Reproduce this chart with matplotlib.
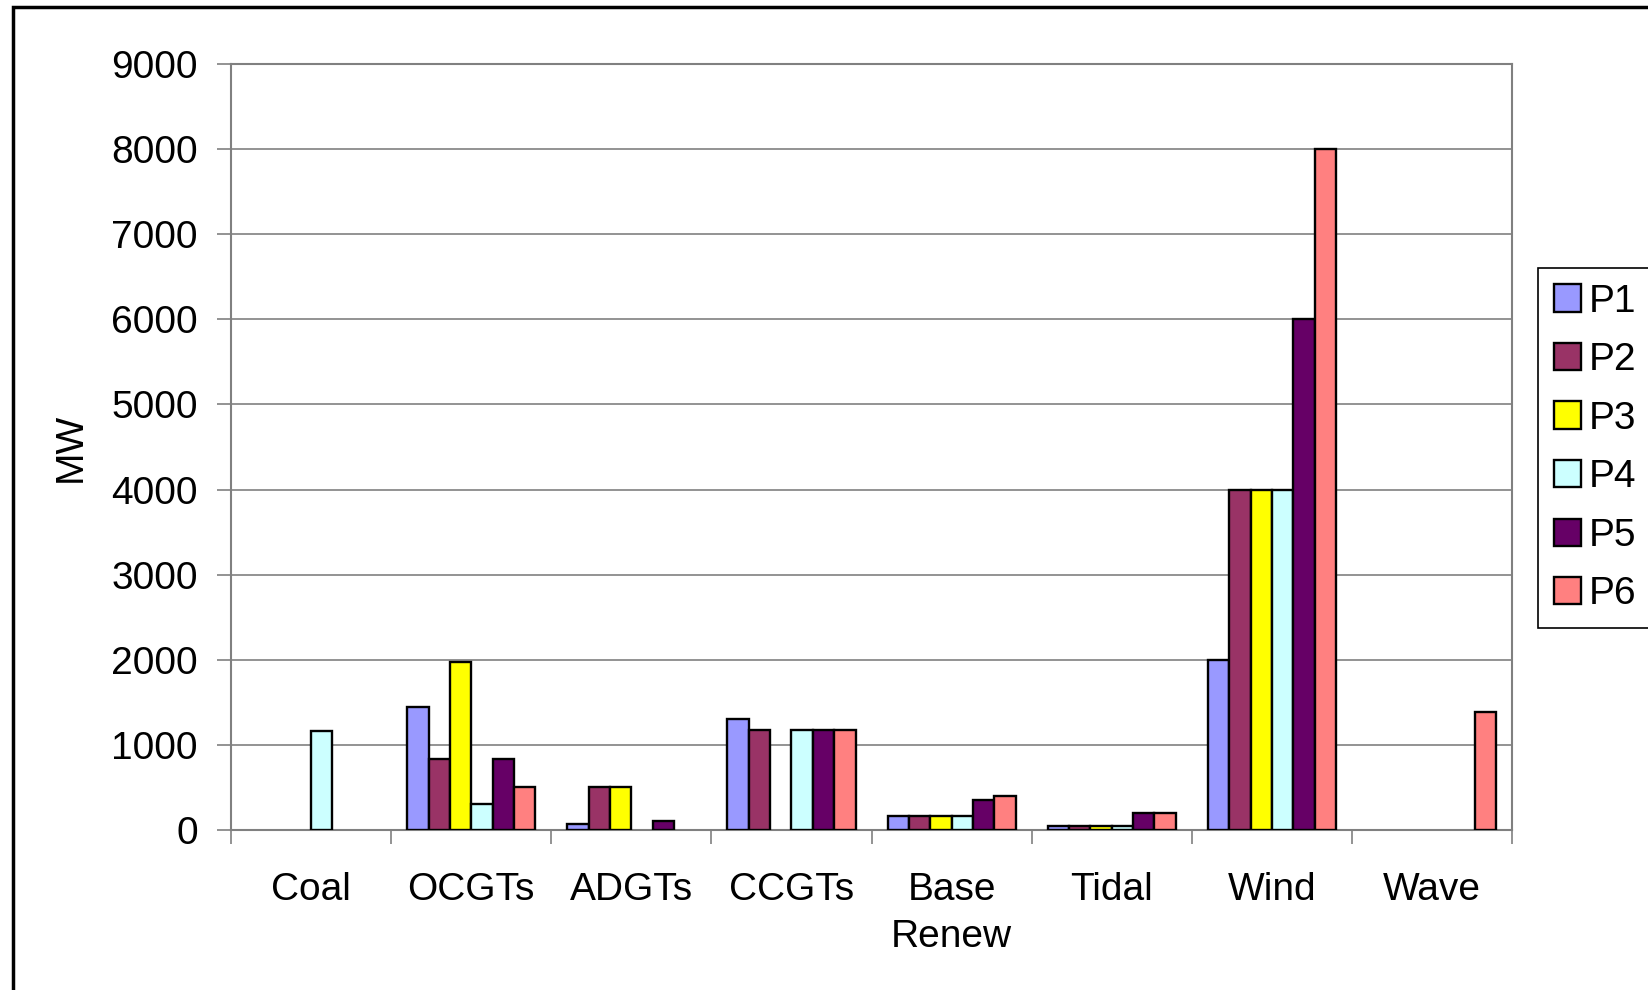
import numpy as np
import matplotlib
matplotlib.use("Agg")
import matplotlib.pyplot as plt
from matplotlib.patches import Rectangle

plt.rcParams['font.family'] = ['Liberation Sans', 'DejaVu Sans']

# installed capacity per plant type, one list per scenario
categories = ["Coal", "OCGTs", "ADGTs", "CCGTs", "Base\nRenew", "Tidal", "Wind", "Wave"]
series_names = ["P1", "P2", "P3", "P4", "P5", "P6"]
p1 = [0, 1440, 75, 1300, 170, 50, 2000, 0]
p2 = [0, 830, 510, 1180, 170, 50, 4000, 0]
p3 = [0, 1970, 510, 0, 170, 50, 4000, 0]
p4 = [1160, 300, 0, 1180, 170, 50, 4000, 0]
p5 = [0, 830, 110, 1180, 350, 200, 6000, 0]
p6 = [0, 500, 0, 1180, 400, 200, 8000, 1390]
series = [p1, p2, p3, p4, p5, p6]
colors = ["#9999FF", "#993366", "#FFFF00", "#CCFFFF", "#660066", "#FF8080"]

fig = plt.figure(figsize=(16.48, 9.9), dpi=100)
ax = fig.add_axes([0.1402, 0.1616, 0.7773, 0.7738])

x = np.arange(len(categories))
width = 0.8 / len(series)
for i, (vals, col, name) in enumerate(zip(series, colors, series_names)):
    h = np.array(vals, dtype=float)
    h[h == 0] = np.nan  # empty slots get no outline
    ax.bar(x - 0.4 + width * (i + 0.5), h, width, color=col,
           edgecolor="black", linewidth=1.7, label=name, zorder=3)

ax.set_xlim(-0.5, len(categories) - 0.5)
ax.set_ylim(0, 9000)
ax.set_yticks(np.arange(0, 9001, 1000))
ax.yaxis.grid(True, color="#808080", linewidth=1.2, zorder=0)

# category labels centred, tick marks on the boundaries between groups
ax.set_xticks(x)
ax.set_xticklabels(categories, fontsize=28, linespacing=1.4)
ax.set_xticks(np.arange(-0.5, len(categories), 1), minor=True)
ax.tick_params(axis='x', which='major', length=0, pad=30)
ax.tick_params(axis='x', which='minor', length=10, width=1.2, color="#808080", direction='out')
ax.tick_params(axis='y', labelsize=28, length=10, width=1.2, color="#808080", pad=14)

for side in ["top", "right", "left", "bottom"]:
    ax.spines[side].set_color("#808080")
    ax.spines[side].set_linewidth(1.5)

ax.set_ylabel("MW", fontsize=28, labelpad=16)

leg = ax.legend(loc="upper left", bbox_to_anchor=(1538 / 1648, 1 - 268 / 990),
                bbox_transform=fig.transFigure, fontsize=28, frameon=True,
                fancybox=False, edgecolor="black", framealpha=1,
                handlelength=0.7, handleheight=0.7, handletextpad=0.2,
                labelspacing=0.58, borderpad=0.4, borderaxespad=0)
leg.get_frame().set_linewidth(1.2)

# outer chart border
fig.patches.append(Rectangle((13 / 1648, -0.05), 1.2, 1.05 - 7 / 990,
                             transform=fig.transFigure, fill=False,
                             edgecolor="black", linewidth=2.5))

fig.savefig("out.png", dpi=100)
